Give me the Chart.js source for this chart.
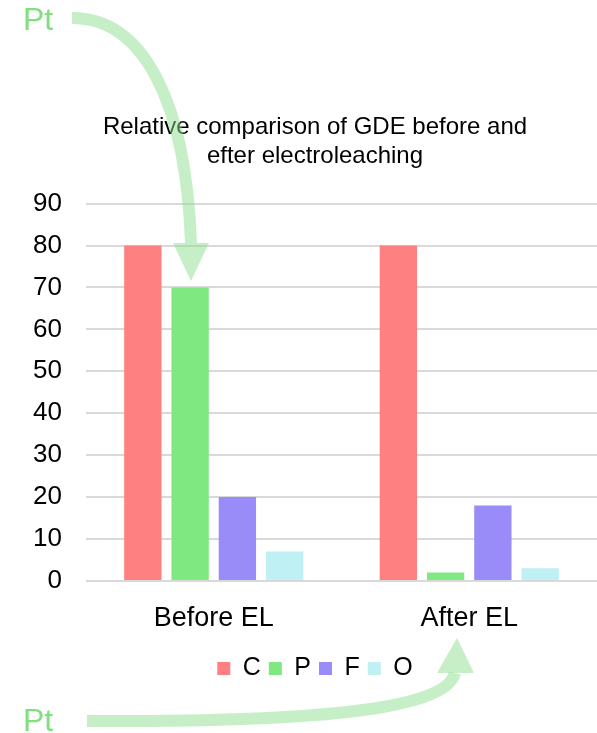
<!DOCTYPE html>
<html>
<head>
<meta charset="utf-8">
<script src="https://cdn.jsdelivr.net/npm/chart.js@4"></script>
<style>
  html, body { margin: 0; padding: 0; background: #fff; }
  #wrap { width: 597px; height: 733px; }
</style>
</head>
<body>
<div id="wrap"><canvas id="gde-chart" width="597" height="733"></canvas></div>
<script>
var categories = ['Before EL', 'After EL'];
var seriesNames = ['C', 'P', 'F', 'O'];
var cValues = [80, 80];
var pValues = [70, 2];
var fValues = [20, 18];
var oValues = [7, 3];
var yTicks = [0, 10, 20, 30, 40, 50, 60, 70, 80, 90];

var colors = ['#ff8080', '#80e880', '#998cf8', '#bff0f4'];
var font = 'Liberation Sans, Arial, sans-serif';

// Pt arrows drawn on top of the chart
var ptArrows = {
    id: 'ptArrows',
    afterDraw: function(chart) {
        var ctx = chart.ctx;
        ctx.save();
        ctx.fillStyle = '#80e080';
        ctx.font = '32px ' + font;
        ctx.textBaseline = 'alphabetic';
        ctx.fillText('Pt', 23, 30);
        ctx.fillText('Pt', 23, 731);

        ctx.strokeStyle = 'rgba(144, 224, 144, 0.5)';
        ctx.fillStyle = 'rgba(144, 224, 144, 0.5)';
        ctx.lineWidth = 12;

        ctx.beginPath();
        ctx.moveTo(72, 18);
        ctx.bezierCurveTo(145, 18, 186, 105, 191, 243);
        ctx.stroke();
        ctx.beginPath();
        ctx.moveTo(173, 243);
        ctx.lineTo(209, 243);
        ctx.lineTo(191, 281);
        ctx.closePath();
        ctx.fill();

        ctx.beginPath();
        ctx.moveTo(87, 721);
        ctx.bezierCurveTo(300, 722, 445, 712, 455, 673);
        ctx.stroke();
        ctx.beginPath();
        ctx.moveTo(437, 673);
        ctx.lineTo(474, 673);
        ctx.lineTo(457, 638);
        ctx.closePath();
        ctx.fill();
        ctx.restore();
    }
};

var seriesValues = [cValues, pValues, fValues, oValues];
var datasets = seriesNames.map(function(name, i) {
    return {
        label: name,
        data: seriesValues[i],
        backgroundColor: colors[i],
        borderWidth: 0,
        categoryPercentage: 0.74,
        barPercentage: 0.79
    };
});

var ctx = document.getElementById('gde-chart').getContext('2d');
new Chart(ctx, {
    type: 'bar',
    data: { labels: categories, datasets: datasets },
    plugins: [ptArrows],
    options: {
        responsive: false,
        animation: false,
        layout: { padding: { left: 33, right: 0, top: 113, bottom: 42 } },
        plugins: {
            title: {
                display: true,
                text: ['Relative comparison of GDE before and', 'efter electroleaching'],
                color: '#000',
                font: { family: font, size: 24, weight: 'normal', lineHeight: 1.2 },
                padding: { top: 0, bottom: 33 }
            },
            legend: {
                position: 'bottom',
                labels: {
                    color: '#000',
                    font: { family: font, size: 25 },
                    boxWidth: 13,
                    boxHeight: 13,
                    padding: 8
                }
            },
            tooltip: { enabled: false }
        },
        scales: {
            x: {
                grid: { display: false },
                border: { display: false },
                ticks: { color: '#000', font: { family: font, size: 27, lineHeight: 1.3 }, padding: 12 }
            },
            y: {
                min: 0,
                max: 90,
                afterBuildTicks: function(scale) {
                    scale.ticks = yTicks.map(function(v) { return { value: v }; });
                },
                afterFit: function(scale) { scale.width = 53; },
                grid: { color: '#d9d9d9', lineWidth: 2, drawTicks: false },
                border: { display: false },
                ticks: { color: '#000', font: { family: font, size: 26 }, padding: 24 }
            }
        }
    }
});
</script>
</body>
</html>
